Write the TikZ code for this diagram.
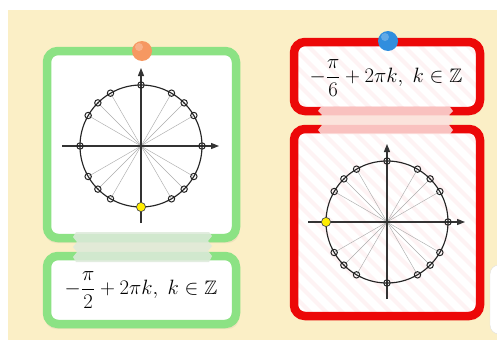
\documentclass[tikz,border=0pt]{standalone}
\usepackage{amsmath,amssymb}
\usetikzlibrary{arrows.meta}
\definecolor{bgyellow}{RGB}{251,239,198}
\definecolor{cardgreen}{RGB}{140,226,132}
\definecolor{cardred}{RGB}{236,8,8}
\definecolor{dotorange}{RGB}{246,152,98}
\definecolor{dotblue}{RGB}{48,142,222}
\definecolor{tapegreen}{RGB}{222,234,219}
\definecolor{tapepink}{RGB}{252,226,224}
\definecolor{stripepink}{RGB}{254,243,244}
\tikzset{
  cardfill/.style={fill=white, rounded corners=11pt},
  cardborder/.style={line width=8.5pt, rounded corners=11pt},
  spoke/.style={draw=black!32, line width=0.45pt},
  axisline/.style={draw=black!80, line width=1.1pt, -{Triangle[length=8pt,width=6pt]}},
  ring/.style={draw=black!85, line width=1.15pt},
  ptmarker/.style={draw=black!85, line width=1pt},
  hitdot/.style={fill=yellow!95!orange, draw=black!70, line width=0.7pt},
  tape/.style={opacity=0.85},
  eq/.style={font=\fontsize{19.5}{23}\selectfont, inner sep=0pt},
}
\newcommand{\trigcircle}[3]{%
  \begin{scope}[shift={(#1,#2)}]
    \foreach \a in {30,45,60,120,135,150,210,225,240,300,315,330}
      \draw[spoke] (0,0) -- (\a:61);
    \draw[axisline] (-79,0) -- (78,0);
    \draw[axisline] (0,77) -- (0,-78);
    \draw[ring] (0,0) circle (61);
    \foreach \a in {0,30,45,60,90,120,135,150,180,210,225,240,270,300,315,330}
      \draw[ptmarker] (\a:61) circle (3.2);
    \draw[hitdot] (#3:61) circle (4.6);
  \end{scope}}
\begin{document}
\begin{tikzpicture}[x=1pt,y=-1pt]
  \useasboundingbox (0,0) rectangle (497,340);
  \fill[white] (0,0) rectangle (497,340);
  \fill[bgyellow] (8,10) rectangle (497,340);

  % partial card at the right edge
  \begin{scope}
    \clip (0,0) rectangle (497,340);
    \draw[fill=white, draw=black!12, rounded corners=9pt] (490,265) rectangle (530,334);
  \end{scope}

  % ---------- left (green) cards ----------
  \fill[black, opacity=0.05, rounded corners=11pt] (45,55) rectangle (239,243);
  \fill[black, opacity=0.05, rounded corners=11pt] (45,260) rectangle (239,329);
  \fill[cardfill] (47,51) rectangle (236,238);
  \draw[cardborder, draw=cardgreen] (47,51) rectangle (236,238);
  \fill[cardfill] (47,256) rectangle (236,324);
  \draw[cardborder, draw=cardgreen] (47,256) rectangle (236,324);

  \trigcircle{141}{146}{90}

  \node[eq] (eqL) at (141,290) {$\displaystyle -\frac{\pi}{2}+2\pi k,\ k\in\mathbb{Z}$};

  \fill[tapegreen, tape] (76,232) -- (209,232) -- (212,236) -- (208,241) -- (212,246) -- (208,251) -- (212,256) -- (209,262)
     -- (76,262) -- (73,257) -- (77,252) -- (73,247) -- (77,242) -- (73,237) -- cycle;

  \fill[dotorange] (142,51) circle (10);
  \fill[white, opacity=0.25] (139,47) circle (4);

  % ---------- right (red) cards ----------
  \fill[black, opacity=0.05, rounded corners=11pt] (292,46) rectangle (483,115);
  \fill[black, opacity=0.05, rounded corners=11pt] (292,133) rectangle (483,320);
  \fill[cardfill] (294,42) rectangle (480,111);
  \begin{scope}
    \clip[rounded corners=11pt] (294,42) rectangle (480,111);
    \foreach \s in {0,16,...,400}
      \draw[stripepink, line width=4pt] (280+\s,130) -- (280+\s-100,30);
  \end{scope}
  \draw[cardborder, draw=cardred] (294,42) rectangle (480,111);

  \fill[cardfill] (294,129) rectangle (480,316);
  \begin{scope}
    \clip[rounded corners=11pt] (294,129) rectangle (480,316);
    \foreach \s in {0,16,...,500}
      \draw[stripepink, line width=4pt] (280+\s,330) -- (280+\s-200,130);
  \end{scope}
  \draw[cardborder, draw=cardred] (294,129) rectangle (480,316);

  \trigcircle{387}{222}{180}

  \node[eq] (eqR) at (386,78) {$\displaystyle -\frac{\pi}{6}+2\pi k,\ k\in\mathbb{Z}$};

  \fill[tapepink, tape] (321,107) -- (450,107) -- (453,111) -- (449,115) -- (453,120) -- (449,125) -- (453,130) -- (450,134)
     -- (321,134) -- (318,130) -- (322,125) -- (318,120) -- (322,115) -- (318,111) -- cycle;

  \fill[dotblue] (388,41) circle (10);
  \fill[white, opacity=0.25] (385,37) circle (4);
\end{tikzpicture}
\end{document}
